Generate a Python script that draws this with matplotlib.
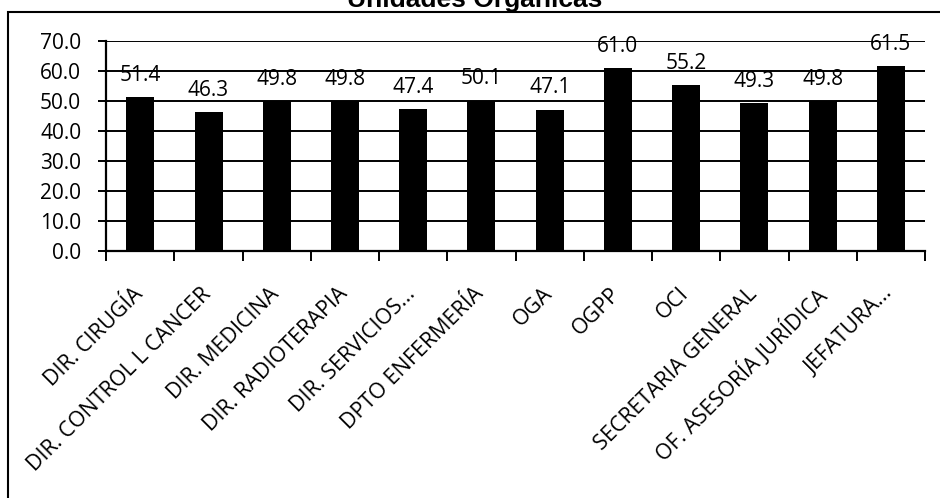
import numpy as np
import matplotlib.pyplot as plt
from matplotlib.patches import Rectangle
from matplotlib.transforms import ScaledTranslation

# Unidades organicas y su puntaje
unidades = ['DIR. CIRUGÍA', 'DIR. CONTROL L CANCER', 'DIR. MEDICINA',
            'DIR. RADIOTERAPIA', 'DIR. SERVICIOS...', 'DPTO ENFERMERÍA',
            'OGA', 'OGPP', 'OCI', 'SECRETARIA GENERAL',
            'OF. ASESORÍA JURÍDICA', 'JEFATURA...']
valores = [51.4, 46.3, 49.8, 49.8, 47.4, 50.1, 47.1, 61.0, 55.2, 49.3, 49.8, 61.5]
y_ticks = [0, 10, 20, 30, 40, 50, 60, 70]

plt.rcParams['font.family'] = ['Open Sans', 'DejaVu Sans']

fig = plt.figure(figsize=(9.4, 4.98), dpi=100)
ax = fig.add_axes([0.113, 0.496, 0.871, 0.422])

x = np.arange(len(unidades))
ax.bar(x, valores, width=0.41, color='black', zorder=3)

for xi, v in zip(x, valores):
    ax.annotate(f'{v:.1f}', (xi, v), xytext=(0, 8), textcoords='offset points',
                ha='center', va='bottom', fontsize=15, zorder=4)

ax.set_ylim(0, 70)
ax.set_xlim(-0.5, len(unidades) - 0.5)
ax.set_yticks(y_ticks)
ax.set_yticklabels([f'{t:.1f}' for t in y_ticks], fontsize=15)
ax.yaxis.grid(True, color='black', linewidth=1.4, zorder=0)
ax.tick_params(axis='y', length=6, width=1.4, direction='out', pad=12)

ax.set_xticks(x)
ax.set_xticklabels(unidades, rotation=45, ha='right', rotation_mode='anchor',
                   fontsize=15.5)
ax.tick_params(axis='x', which='major', length=0, pad=22)
ax.set_xticks(np.arange(len(unidades) + 1) - 0.5, minor=True)
ax.tick_params(axis='x', which='minor', length=7, width=1.4, direction='out')

# mover un poco las etiquetas a la izquierda
shift = ScaledTranslation(-8 / 100, -2 / 100, fig.dpi_scale_trans)
for lbl in ax.get_xticklabels():
    lbl.set_transform(lbl.get_transform() + shift)

for s in ['top', 'right']:
    ax.spines[s].set_visible(False)
for s in ['left', 'bottom']:
    ax.spines[s].set_linewidth(1.6)

# marco exterior del grafico
fig.patches.append(Rectangle((0.009, -0.01), 1.0, 0.985, transform=fig.transFigure,
                             fill=False, edgecolor='black', linewidth=1.5))

fig.text(0.505, 1.0, 'Unidades Orgánicas', ha='center', va='center',
         fontsize=19, fontweight='bold', family='Liberation Sans')

fig.savefig('out.png', dpi=100)
